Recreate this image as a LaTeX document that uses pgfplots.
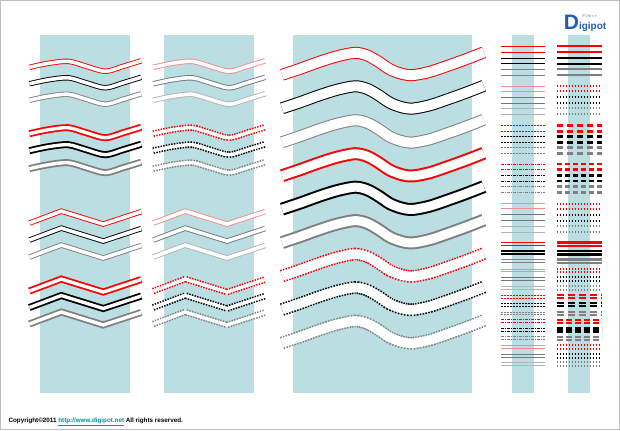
\documentclass[border=0pt]{standalone}
\usepackage{pgfplots}
\pgfplotsset{compat=1.18}
\usepackage{pgfplotstable}
\usepackage{fontspec}
\setmainfont{Liberation Sans}
\newfontfamily\cjk{Noto Sans CJK JP}
\definecolor{bg}{RGB}{187,222,226}
\definecolor{mr}{RGB}{255,0,0}
\definecolor{mg}{RGB}{128,128,128}
\definecolor{fr}{RGB}{245,140,140}
\definecolor{fk}{RGB}{110,120,125}
\definecolor{fg}{RGB}{175,180,182}
\definecolor{logo}{RGB}{30,95,180}
\definecolor{link}{RGB}{0,150,150}

\pgfplotstableread{
x xb r1 r2 r3 r4 r5 r6
29 153 67 83.5 100 133.5 150.5 168.5
48 172 63 79.5 96 129.5 146.5 164.5
68 192 61 77.5 94 127.5 144.5 162.5
86 210 66 82.5 99 132.5 149.5 167.5
105 229 71 87.5 104 137.5 154.5 172.5
123 247 66 82.5 99 132.5 149.5 167.5
141 265 60.5 77 93.5 127 144 162
}\waves

\pgfplotstableread{
x xb r1 r2 r3 r4 r5 r6
29 153 223 240 257 291 307.5 324
61 185 211 228 245 279 295.5 312
103 227 224 241 258 292 308.5 325
141 265 211.5 228.5 245.5 279.5 296 312.5
}\chevs

\pgfplotstableread{
x r1 r2 r3 r4 r5 r6 r7 r8 r9
282 74.5 108 142 175.5 209 242.5 276 309.5 343
300 68.5 102 136 169.5 203 236.5 270 303.5 337
318 62 95.5 129.5 163 196.5 230 263.5 297 330.5
337 56 89.5 123.5 157 190.5 224 257.5 291 324.5
355 52.5 86 120 153.5 187 220.5 254 287.5 321
367 55 88.5 122.5 156 189.5 223 256.5 290 323.5
378 61 94.5 128.5 162 195.5 229 262.5 296 329.5
390 69 102.5 136.5 170 203.5 237 270.5 304 337.5
402 73.5 107 141 174.5 208 241.5 275 308.5 342
413 74.8 108.3 142.3 175.8 209.3 242.8 276.3 309.8 343.3
430 71.5 105 139 172.5 206 239.5 273 306.5 340
447 65.8 99.3 133.3 166.8 200.3 233.8 267.3 300.8 334.3
466 59 92.5 126.5 160 193.5 227 260.5 294 327.5
484 52 85.5 119.5 153 186.5 220 253.5 287 320.5
}\big

\newcommand{\hpair}[5]{\addplot[#1] coordinates {(#2,#4)(#3,#4)(#2,nan)(#2,#5)(#3,#5)};}

\pgfplotsset{
  thinw/.style={line width=0.9pt, double=white, double distance=3.6pt},
  thickw/.style={line width=1.8pt, double=white, double distance=3.4pt},
  dotw/.style={line width=6.6pt, dash pattern=on 1.4pt off 1.3pt},
  band/.style={white, line width=3.4pt},
  bthin/.style={line width=1pt, double=white, double distance=10pt},
  bthick/.style={line width=2pt, double=white, double distance=9pt},
  bdot/.style={line width=12.8pt, dash pattern=on 1.5pt off 1.3pt},
  bband/.style={white, line width=9.6pt},
}

\begin{document}
\begin{tikzpicture}
\begin{axis}[
  scale only axis, width=620pt, height=430pt,
  xmin=0, xmax=620, ymin=0, ymax=430, y dir=reverse,
  axis line style={draw=gray!50, line width=0.8pt},
  ticks=none, clip=false, no markers, unbounded coords=jump,
]
% background columns
\addplot[fill=bg, draw=none] coordinates {(40,35)(130,35)(130,393)(40,393)} -- cycle;
\addplot[fill=bg, draw=none] coordinates {(164,35)(254,35)(254,393)(164,393)} -- cycle;
\addplot[fill=bg, draw=none] coordinates {(293,35)(472,35)(472,393)(293,393)} -- cycle;
\addplot[fill=bg, draw=none] coordinates {(512,35)(534,35)(534,393)(512,393)} -- cycle;
\addplot[fill=bg, draw=none] coordinates {(568,35)(590,35)(590,393)(568,393)} -- cycle;

% panel 1 waves
\addplot[mr, thinw, smooth] table[x=x,y=r1]{\waves};
\addplot[black, thinw, smooth] table[x=x,y=r2]{\waves};
\addplot[mg, thinw, smooth] table[x=x,y=r3]{\waves};
\addplot[mr, thickw, smooth] table[x=x,y=r4]{\waves};
\addplot[black, thickw, smooth] table[x=x,y=r5]{\waves};
\addplot[mg, thickw, smooth] table[x=x,y=r6]{\waves};
% panel 1 chevrons
\addplot[mr, thinw, sharp plot] table[x=x,y=r1]{\chevs};
\addplot[black, thinw, sharp plot] table[x=x,y=r2]{\chevs};
\addplot[mg, thinw, sharp plot] table[x=x,y=r3]{\chevs};
\addplot[mr, thickw, sharp plot] table[x=x,y=r4]{\chevs};
\addplot[black, thickw, sharp plot] table[x=x,y=r5]{\chevs};
\addplot[mg, thickw, sharp plot] table[x=x,y=r6]{\chevs};

% panel 2 waves
\addplot[fr, thinw, smooth] table[x=xb,y=r1]{\waves};
\addplot[fk, thinw, smooth] table[x=xb,y=r2]{\waves};
\addplot[fg, thinw, smooth] table[x=xb,y=r3]{\waves};
\addplot[mr, dotw, smooth] table[x=xb,y=r4]{\waves};
\addplot[band, smooth] table[x=xb,y=r4]{\waves};
\addplot[black, dotw, smooth] table[x=xb,y=r5]{\waves};
\addplot[band, smooth] table[x=xb,y=r5]{\waves};
\addplot[mg, dotw, smooth] table[x=xb,y=r6]{\waves};
\addplot[band, smooth] table[x=xb,y=r6]{\waves};
% panel 2 chevrons
\addplot[fr, thinw, sharp plot] table[x=xb,y=r1]{\chevs};
\addplot[fk, thinw, sharp plot] table[x=xb,y=r2]{\chevs};
\addplot[fg, thinw, sharp plot] table[x=xb,y=r3]{\chevs};
\addplot[mr, dotw, sharp plot] table[x=xb,y=r4]{\chevs};
\addplot[band, sharp plot] table[x=xb,y=r4]{\chevs};
\addplot[black, dotw, sharp plot] table[x=xb,y=r5]{\chevs};
\addplot[band, sharp plot] table[x=xb,y=r5]{\chevs};
\addplot[mg, dotw, sharp plot] table[x=xb,y=r6]{\chevs};
\addplot[band, sharp plot] table[x=xb,y=r6]{\chevs};

% panel 3 big waves
\addplot[mr, bthin, smooth] table[x=x,y=r1]{\big};
\addplot[black, bthin, smooth] table[x=x,y=r2]{\big};
\addplot[mg, bthin, smooth] table[x=x,y=r3]{\big};
\addplot[mr, bthick, smooth] table[x=x,y=r4]{\big};
\addplot[black, bthick, smooth] table[x=x,y=r5]{\big};
\addplot[mg, bthick, smooth] table[x=x,y=r6]{\big};
\addplot[mr, bdot, smooth] table[x=x,y=r7]{\big};
\addplot[bband, smooth] table[x=x,y=r7]{\big};
\addplot[black, bdot, smooth] table[x=x,y=r8]{\big};
\addplot[bband, smooth] table[x=x,y=r8]{\big};
\addplot[mg, bdot, smooth] table[x=x,y=r9]{\big};
\addplot[bband, smooth] table[x=x,y=r9]{\big};

% panel 4 straight pairs
\hpair{mr,line width=0.9pt}{501}{545}{46}{52}
\hpair{black,line width=0.9pt}{501}{545}{58}{63.5}
\hpair{mg,line width=0.9pt}{501}{545}{69}{75}
\hpair{fr,line width=0.9pt}{501}{545}{86}{91}
\hpair{fk,line width=0.9pt}{501}{545}{97}{103}
\hpair{fg,line width=0.9pt}{501}{545}{108}{114}
\hpair{mr,line width=1pt,dash pattern=on 2pt off 1pt}{501}{545}{125.5}{131}
\hpair{black,line width=1pt,dash pattern=on 2pt off 1pt}{501}{545}{136}{142}
\hpair{mg,line width=1pt,dash pattern=on 2pt off 1pt}{501}{545}{147}{153}
\hpair{mr,line width=1pt,dash pattern=on 3pt off 1pt on 1pt off 1pt}{501}{545}{164}{169.5}
\hpair{black,line width=1pt,dash pattern=on 3pt off 1pt on 1pt off 1pt}{501}{545}{175.5}{181}
\hpair{mg,line width=1pt,dash pattern=on 3pt off 1pt on 1pt off 1pt}{501}{545}{186.5}{192.5}
\hpair{fr,line width=0.9pt}{501}{545}{203.5}{208.5}
\hpair{fk,line width=0.9pt}{501}{545}{214.5}{220.5}
\hpair{fg,line width=0.9pt}{501}{545}{226}{232}
\hpair{mr,line width=1.5pt}{501}{545}{242.5}{245.5}
\hpair{black,line width=1.5pt}{501}{545}{251}{254}
\hpair{mg,line width=1.5pt}{501}{545}{259.5}{262.5}
\hpair{fr,line width=0.9pt}{501}{545}{269}{271.5}
\hpair{fk,line width=0.9pt}{501}{545}{277.5}{280.5}
\hpair{fg,line width=0.9pt}{501}{545}{286.5}{289.5}
\hpair{mr,line width=1pt,dash pattern=on 2pt off 1pt}{501}{545}{295}{298}
\hpair{black,line width=1pt,dash pattern=on 2pt off 1pt}{501}{545}{303}{306}
\hpair{mg,line width=1pt,dash pattern=on 2pt off 1pt}{501}{545}{312}{315}
\hpair{mr,line width=1pt,dash pattern=on 3pt off 1pt on 1pt off 1pt}{501}{545}{320}{323}
\hpair{black,line width=1pt,dash pattern=on 3pt off 1pt on 1pt off 1pt}{501}{545}{328.5}{331.5}
\hpair{mg,line width=1pt,dash pattern=on 3pt off 1pt on 1pt off 1pt}{501}{545}{337}{340}
\hpair{fr,line width=0.9pt}{501}{545}{345.5}{348.5}
\hpair{fk,line width=0.9pt}{501}{545}{354.5}{357.5}
\hpair{fg,line width=0.9pt}{501}{545}{363}{366}

% panel 5 straight pairs
\hpair{mr,line width=2.2pt}{557}{602}{46}{52}
\hpair{black,line width=2.2pt}{557}{602}{58}{63.5}
\hpair{mg,line width=2.2pt}{557}{602}{69}{75}
\hpair{mr,line width=2pt,dash pattern=on 1.5pt off 1.5pt}{557}{602}{86}{91}
\hpair{black,line width=2pt,dash pattern=on 1.5pt off 1.5pt}{557}{602}{97}{103}
\hpair{mg,line width=2pt,dash pattern=on 1.5pt off 1.5pt}{557}{602}{108}{114}
\hpair{mr,line width=3pt,dash pattern=on 6pt off 4pt}{557}{602}{125.5}{131}
\hpair{black,line width=3pt,dash pattern=on 6pt off 4pt}{557}{602}{136}{142}
\hpair{mg,line width=3pt,dash pattern=on 6pt off 4pt}{557}{602}{147}{153}
\hpair{mr,line width=2.5pt,dash pattern=on 5pt off 3pt}{557}{602}{164}{169.5}
\hpair{black,line width=2.5pt,dash pattern=on 5pt off 3pt}{557}{602}{175.5}{181}
\hpair{mg,line width=2.5pt,dash pattern=on 5pt off 3pt}{557}{602}{186.5}{192.5}
\hpair{mr,line width=2pt,dash pattern=on 1.5pt off 1.5pt}{557}{602}{203.5}{208.5}
\hpair{black,line width=2pt,dash pattern=on 1.5pt off 1.5pt}{557}{602}{214.5}{220.5}
\hpair{mg,line width=2pt,dash pattern=on 1.5pt off 1.5pt}{557}{602}{226}{232}
\hpair{mr,line width=2.4pt}{557}{602}{242.5}{245.8}
\hpair{black,line width=2.4pt}{557}{602}{251}{254.3}
\hpair{mg,line width=2.4pt}{557}{602}{259.5}{262.8}
\hpair{mr,line width=2pt,dash pattern=on 1.5pt off 1.5pt}{557}{602}{268.5}{272}
\hpair{black,line width=2pt,dash pattern=on 1.5pt off 1.5pt}{557}{602}{277}{280.5}
\hpair{mg,line width=2pt,dash pattern=on 1.5pt off 1.5pt}{557}{602}{286}{289.5}
\hpair{mr,line width=2.4pt,dash pattern=on 7pt off 4pt}{557}{602}{295}{298}
\hpair{black,line width=2.4pt,dash pattern=on 7pt off 4pt}{557}{602}{303}{306}
\hpair{mg,line width=2.4pt,dash pattern=on 7pt off 4pt}{557}{602}{312}{315}
\hpair{mr,line width=2.2pt,dash pattern=on 6pt off 3pt}{557}{602}{320}{323}
\hpair{black,line width=2.2pt,dash pattern=on 6pt off 3pt}{557}{602}{328.5}{331.5}
\hpair{mg,line width=2.2pt,dash pattern=on 6pt off 3pt}{557}{602}{337}{340}
\hpair{mr,line width=2pt,dash pattern=on 1.5pt off 1.5pt}{557}{602}{345}{349}
\hpair{black,line width=2pt,dash pattern=on 1.5pt off 1.5pt}{557}{602}{354}{358}
\hpair{mg,line width=2pt,dash pattern=on 1.5pt off 1.5pt}{557}{602}{362.5}{366.5}

% texts
\node[anchor=base west, inner sep=0pt, font=\bfseries\fontsize{6.3}{7}\selectfont]
  at (axis cs:8,423) {Copyright©2011 \textcolor{link}{\underline{http://www.digipot.net}} All rights reserved.};
\node[anchor=base west, inner sep=0pt, text=logo, font=\bfseries\fontsize{21}{21}\selectfont]
  at (axis cs:564,29) {D\fontsize{10}{10}\selectfont igipot};
\node[anchor=base west, inner sep=0pt, text=logo, font=\cjk\fontsize{3.2}{3.2}\selectfont]
  at (axis cs:582,17) {デジポット};
\end{axis}
\end{tikzpicture}
\end{document}
